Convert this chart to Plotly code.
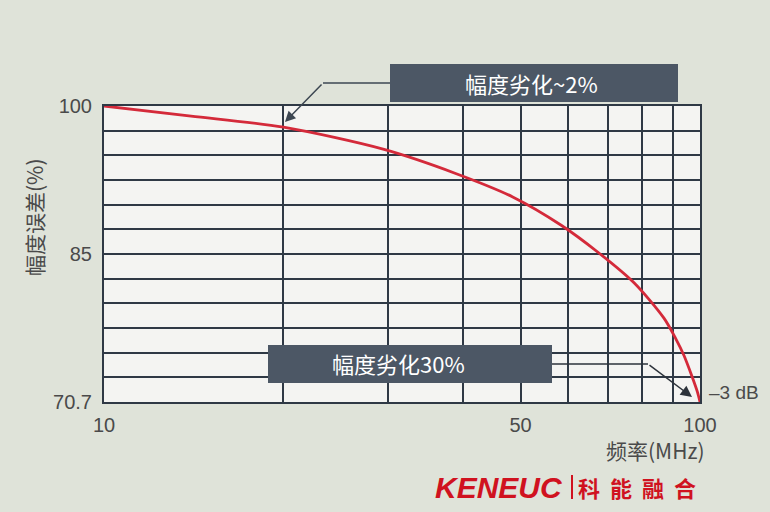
import plotly.graph_objects as go

# Data
freq_mhz = [10, 14, 20, 29.5, 39, 48.5, 58.5, 67.5, 77.5, 87, 91, 94, 97, 99, 100]
amplitude_pct = [100.0, 99.0, 97.9, 95.7, 93.3, 91.0, 88.2, 85.5, 82.5, 79.0, 77.0, 75.3, 73.2, 71.7, 70.7]

x_grid = [10, 20, 30, 40, 50, 60, 70, 80, 90, 100]
x_labels = ["10", "", "", "", "50", "", "", "", "", "100"]
y_bottom, y_top = 70.7, 100.0
n_rows = 12
y_grid = [y_bottom + k * (y_top - y_bottom) / n_rows for k in range(n_rows + 1)]
y_labels = ["70.7", "", "", "", "", "", "85", "", "", "", "", "", "100"]

BG = "#dfe3d9"
PLOT_BG = "#f4f4f2"
GRID = "#2f3945"
BOX = "#4c5765"
RED = "#d42a3a"
TXT = "#4a4a4a"
CJK = "Noto Sans CJK SC"

fig = go.Figure()
fig.add_trace(go.Scatter(x=freq_mhz, y=amplitude_pct, mode="lines",
                         line=dict(color=RED, width=2.8, shape="spline", smoothing=0.8),
                         hoverinfo="skip", showlegend=False))

W, H = 770, 512
L, R, T, B = 104, 70, 106, 110
pw, ph = W - L - R, H - T - B

def px(xp):
    return (xp - L) / pw

def py(yp):
    return (H - B - yp) / ph

shapes = []
shapes.append(dict(type="rect", xref="paper", yref="paper",
                   x0=px(390), x1=px(678), y0=py(102), y1=py(64),
                   fillcolor=BOX, line=dict(width=0), layer="above"))
shapes.append(dict(type="rect", xref="paper", yref="paper",
                   x0=px(268), x1=px(552), y0=py(383), y1=py(345),
                   fillcolor=BOX, line=dict(width=0), layer="above"))
shapes.append(dict(type="line", xref="paper", yref="paper",
                   x0=px(390), x1=px(323), y0=py(83), y1=py(83),
                   line=dict(color="#3d4752", width=1.5), layer="above"))
shapes.append(dict(type="line", xref="paper", yref="paper",
                   x0=px(552), x1=px(648), y0=py(364), y1=py(364),
                   line=dict(color="#2d333b", width=1.5), layer="above"))
shapes.append(dict(type="line", xref="paper", yref="paper",
                   x0=px(572), x1=px(572), y0=py(475), y1=py(499),
                   line=dict(color="#d0121f", width=2), layer="above"))

annotations = [
    dict(xref="paper", yref="paper", x=px(285), y=py(122), ax=38, ay=-39,
         showarrow=True, arrowhead=2, arrowsize=1.4, arrowwidth=1.5,
         arrowcolor="#3d4752", text=""),
    dict(xref="paper", yref="paper", x=px(692), y=py(397), ax=-44, ay=-33,
         showarrow=True, arrowhead=2, arrowsize=1.5, arrowwidth=1.5,
         arrowcolor="#2d333b", text=""),
    dict(xref="paper", yref="paper", x=px(531), y=py(83), showarrow=False,
         text="幅度劣化~2%", font=dict(family=CJK, size=22, color="white"),
         xanchor="center", yanchor="middle"),
    dict(xref="paper", yref="paper", x=px(398), y=py(363), showarrow=False,
         text="幅度劣化30%", font=dict(family=CJK, size=22, color="white"),
         xanchor="center", yanchor="middle"),
    dict(xref="paper", yref="paper", x=px(707), y=py(392), showarrow=False,
         text="–3 dB", font=dict(family="Liberation Sans", size=19, color=TXT),
         xanchor="left", yanchor="middle"),
    dict(xref="paper", yref="paper", x=px(34), y=py(217), showarrow=False,
         text="幅度误差(%)", textangle=-90,
         font=dict(family=CJK, size=21, color=TXT),
         xanchor="center", yanchor="middle"),
    dict(xref="paper", yref="paper", x=px(655), y=py(450), showarrow=False,
         text="频率(MHz)", font=dict(family=CJK, size=21, color=TXT),
         xanchor="center", yanchor="middle"),
    dict(xref="paper", yref="paper", x=px(499), y=py(487), showarrow=False,
         text="<b><i>KENEUC</i></b>",
         font=dict(family="Liberation Sans", size=30, color="#d0121f"),
         xanchor="center", yanchor="middle"),
    dict(xref="paper", yref="paper", x=px(637), y=py(487), showarrow=False,
         text="<b>科  能  融  合</b>",
         font=dict(family=CJK, size=22, color="#d0121f"),
         xanchor="center", yanchor="middle"),
]

fig.update_layout(
    width=W, height=H,
    margin=dict(l=L, r=R, t=T, b=B),
    paper_bgcolor=BG, plot_bgcolor=PLOT_BG,
    shapes=shapes, annotations=annotations,
    showlegend=False,
)
fig.update_xaxes(type="log", range=[1, 2], tickmode="array", tickvals=x_grid,
                 ticktext=x_labels, showgrid=True, gridcolor=GRID, gridwidth=1.5,
                 showline=True, linecolor=GRID, linewidth=2, mirror=True,
                 ticks="", zeroline=False, ticklabelstandoff=4,
                 tickfont=dict(family="Liberation Sans", size=20, color=TXT))
fig.update_yaxes(range=[y_bottom, y_top], tickmode="array", tickvals=y_grid,
                 ticktext=y_labels, showgrid=True, gridcolor=GRID, gridwidth=1.5,
                 showline=True, linecolor=GRID, linewidth=2, mirror=True,
                 ticks="", zeroline=False, ticklabelstandoff=6,
                 tickfont=dict(family="Liberation Sans", size=20, color=TXT))

fig.write_html("out.html", config={"displayModeBar": False},
               post_script="document.body.style.margin='0';")
